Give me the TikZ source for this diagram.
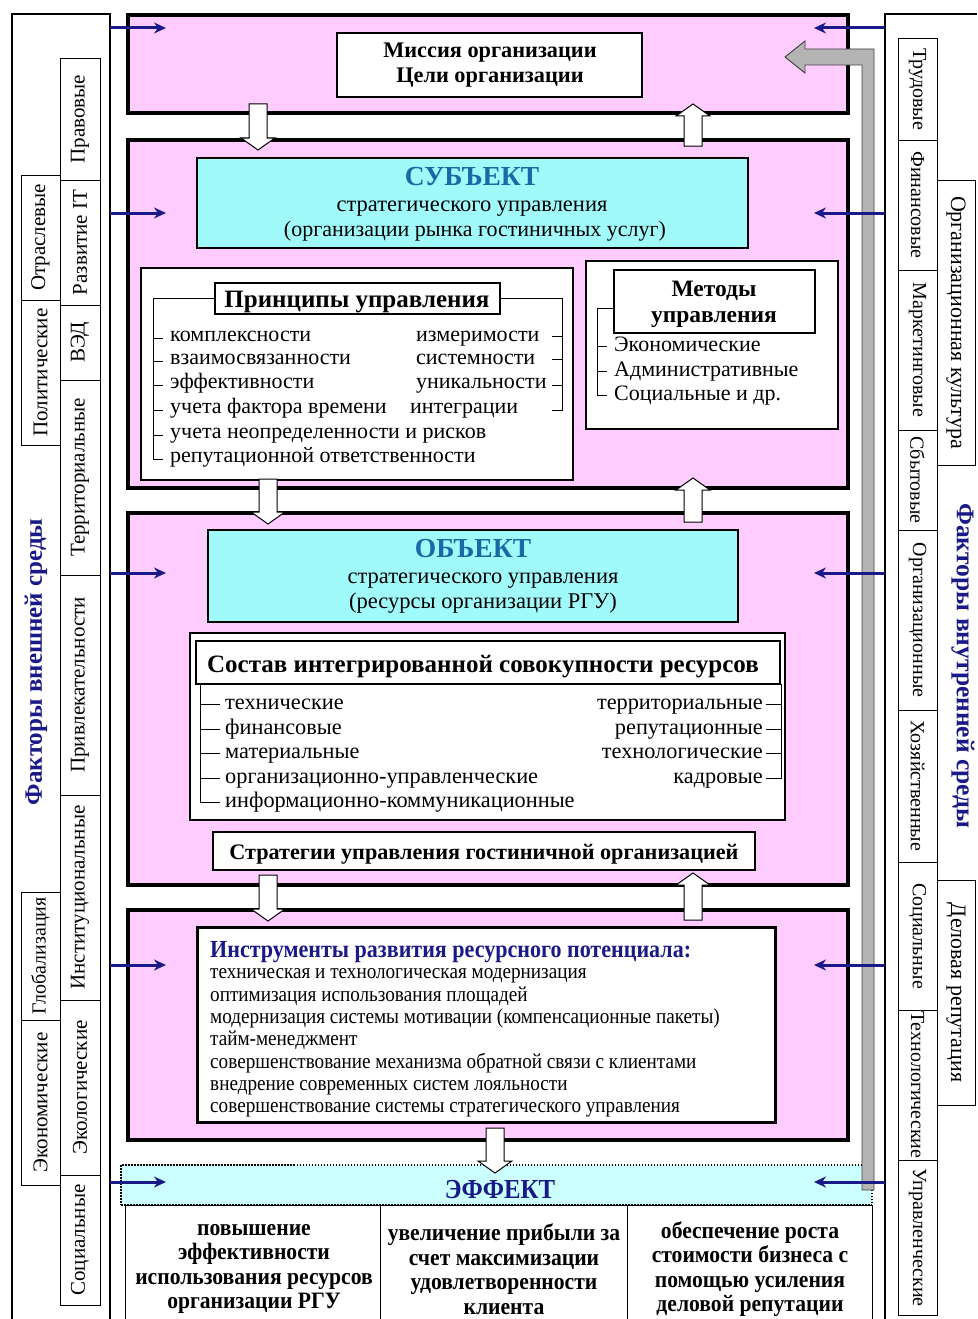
\documentclass[tikz,border=0pt]{standalone}
\usepackage{fontspec}
\setmainfont{Liberation Serif}
\newfontfamily\condfont[FakeStretch=0.9]{Liberation Serif}
\newfontfamily\narrowfont[FakeStretch=0.92]{Liberation Serif}
\usetikzlibrary{arrows.meta,calc}
\definecolor{pinkfill}{RGB}{255,204,255}
\definecolor{cyanfill}{RGB}{160,250,250}
\definecolor{effcyan}{RGB}{204,255,255}
\definecolor{navyc}{RGB}{25,25,135}
\definecolor{subjblue}{RGB}{25,105,165}
\definecolor{grayarr}{RGB}{180,180,180}
\newcommand{\fsz}[2]{\fontsize{#1}{#2}\selectfont}
\newcommand{\downarr}[3]{\draw[blockarr] (#1-9,#2) -- (#1+9,#2) -- (#1+9,#3-12) -- (#1+17,#3-12) -- (#1,#3) -- (#1-17,#3-12) -- (#1-9,#3-12) -- cycle;}
\newcommand{\uparr}[3]{\draw[blockarr] (#1-9,#3) -- (#1+9,#3) -- (#1+9,#2+12) -- (#1+17,#2+12) -- (#1,#2) -- (#1-17,#2+12) -- (#1-9,#2+12) -- cycle;}
\tikzset{
  pinkbox/.style={draw, line width=3.2pt, fill=pinkfill, inner sep=0pt, outer sep=0pt, anchor=north west},
  heavybox/.style={draw, line width=2.5pt, fill=white, inner sep=0pt, outer sep=0pt, anchor=north west},
  thinbox/.style={draw, line width=1.2pt, fill=white, inner sep=0pt, outer sep=0pt, anchor=north west},
  cyanbox/.style={draw, line width=2.5pt, fill=cyanfill, inner sep=0pt, outer sep=0pt, anchor=north west},
  cellbox/.style={draw, line width=1pt, fill=white, inner sep=0pt, outer sep=0pt, anchor=north west},
  sideL/.style={draw, line width=0.8pt, fill=white, rotate=90, inner sep=0pt, outer sep=0pt, font=\fsz{21}{23}},
  sideR/.style={draw, line width=0.8pt, fill=white, rotate=-90, inner sep=0pt, outer sep=0pt, font=\fsz{20}{23}},
  lbl/.style={inner sep=0pt, anchor=base},
  lblw/.style={inner sep=0pt, anchor=base west},
  lble/.style={inner sep=0pt, anchor=base east},
  navyarrow/.style={draw=navyc, line width=3pt, -{Stealth[length=12pt,width=11pt]}},
  blockarr/.style={draw, line width=1pt, fill=white},
  brk/.style={line width=1pt},
}
\begin{document}
\begin{tikzpicture}[x=1pt,y=-1pt]
\useasboundingbox (0,0) rectangle (977,1319);
\fill[white] (0,0) rectangle (977,1319);

% outer side frames
\draw[line width=1.5pt] (12,1319) -- (12,14) -- (110,14) -- (110,1319);
\draw[line width=1.5pt] (977,14) -- (885,14) -- (885,1319);

% left factors, inner column
\node[sideL, minimum width=122, minimum height=40] (lb1) at (80,119) {Правовые};
\node[sideL, minimum width=125, minimum height=40] (lb2) at (80,242.5) {Развитие IT};
\node[sideL, minimum width=75, minimum height=40] (lb3) at (80,342.5) {ВЭД};
\node[sideL, minimum width=195, minimum height=40] (lb4) at (80,477.5) {Территориальные};
\node[sideL, minimum width=220, minimum height=40] (lb5) at (80,685) {Привлекательности};
\node[sideL, minimum width=205, minimum height=40] (lb6) at (80,897.5) {Институциональные};
\node[sideL, minimum width=175, minimum height=40] (lb7) at (80,1087.5) {Экологические};
\node[sideL, minimum width=130, minimum height=40] (lb8) at (80,1240) {Социальные};
% left factors, outer column
\node[sideL, minimum width=125, minimum height=39] (la1) at (40.5,237.5) {Отраслевые};
\node[sideL, minimum width=145, minimum height=39] (la2) at (40.5,372.5) {Политические};
\node[sideL, font=\fsz{20}{22}, minimum width=128, minimum height=39] (la3) at (40.5,956) {Глобализация};
\node[sideL, minimum width=165, minimum height=39] (la4) at (40.5,1102.5) {Экономические};
\node[inner sep=0pt, rotate=90, text=navyc, font=\bfseries\fsz{25}{27}] (ltitle) at (36,662) {Факторы внешней среды};

% right factors
\node[sideR, minimum width=102, minimum height=39] (rc1) at (917.5,89) {Трудовые};
\node[sideR, minimum width=130, minimum height=39] (rc2) at (917.5,205) {Финансовые};
\node[sideR, minimum width=160, minimum height=39] (rc3) at (917.5,350) {Маркетинговые};
\node[sideR, minimum width=100, minimum height=39] (rc4) at (917.5,480) {Сбытовые};
\node[sideR, minimum width=180, minimum height=39] (rc5) at (917.5,620) {Организационные};
\node[sideR, minimum width=152, minimum height=39] (rc6) at (917.5,786) {Хозяйственные};
\node[sideR, minimum width=148, minimum height=39] (rc7) at (917.5,936) {Социальные};
\node[sideR, minimum width=150, minimum height=39] (rc8) at (917.5,1085) {Технологические};
\node[sideR, minimum width=155, minimum height=39] (rc9) at (917.5,1237.5) {Управленческие};
\node[sideR, font=\fsz{22}{24}, minimum width=285, minimum height=38] (rd1) at (956,322.5) {Организационная культура};
\node[sideR, font=\fsz{22}{24}, minimum width=225, minimum height=38] (rd2) at (956,992.5) {Деловая репутация};
\node[inner sep=0pt, rotate=-90, text=navyc, font=\bfseries\fsz{25.5}{27}] (rtitle) at (963,666) {Факторы внутренней среды};

% pink levels
\node[pinkbox, minimum width=720, minimum height=98] (p1) at (128,15) {};
\node[pinkbox, minimum width=720, minimum height=348] (p2) at (128,140) {};
\node[pinkbox, minimum width=720, minimum height=372] (p3) at (128,513) {};
\node[pinkbox, minimum width=720, minimum height=230] (p4) at (128,910) {};

% mission
\node[thinbox, line width=1.5pt, minimum width=305, minimum height=64] (mis) at (337,33) {};
\node[inner sep=0pt, align=center, font=\bfseries\fsz{22.3}{25}] (mist) at (490,65) {Миссия организации\\Цели организации};

% subject
\node[cyanbox, minimum width=551, minimum height=90] (subj) at (197,158) {};
\node[lbl, text=subjblue, font=\bfseries\fsz{27.5}{29}] (subjt) at (472,185) {СУБЪЕКТ};
\node[lbl, font=\fsz{22.5}{25}] (subj2) at (472,211) {стратегического управления};
\node[lbl, font=\fsz{22}{25}] (subj3) at (475,236) {(организации рынка гостиничных услуг)};

% principles
\node[heavybox, minimum width=432, minimum height=212] (prin) at (141,268) {};
\node[thinbox, minimum width=285, minimum height=31] (ph) at (215,283) {};
\node[lbl, font=\bfseries\fsz{25}{27}] (pht) at (357,307) {Принципы управления};
\begin{scope}[font=\fsz{22}{24}]
\node[lblw] (pl1) at (170,341) {комплексности};
\node[lblw] (pl2) at (170,364) {взаимосвязанности};
\node[lblw] (pl3) at (170,388) {эффективности};
\node[lblw] (pl4) at (170,413) {учета фактора времени};
\node[lblw] (pl5) at (170,438) {учета неопределенности и рисков};
\node[lblw] (pl6) at (170,462) {репутационной ответственности};
\node[lblw] (pr1) at (416,341) {измеримости};
\node[lblw] (pr2) at (416,364) {системности};
\node[lblw] (pr3) at (416,388) {уникальности};
\node[lblw] (pr4) at (410,413) {интеграции};
\end{scope}
\draw[brk] (ph.west) -- (153,298.5) -- (153,459) -- (163,459);
\foreach \yy in {338,361,385,410,435} \draw[brk] (153,\yy) -- (163,\yy);
\draw[brk] (ph.east) -- (562,298.5) -- (562,410) -- (552,410);
\foreach \yy in {336,359,385} \draw[brk] (562,\yy) -- (552,\yy);

% methods
\node[heavybox, minimum width=252, minimum height=168] (meth) at (586,261) {};
\node[thinbox, minimum width=201, minimum height=63] (mh) at (614,270) {};
\node[inner sep=0pt, align=center, font=\bfseries\fsz{23.5}{26}] (mht) at (714,304) {Методы\\управления};
\begin{scope}[font=\fsz{22}{24}]
\node[lblw] (ml1) at (614,351) {Экономические};
\node[lblw] (ml2) at (614,376) {Административные};
\node[lblw] (ml3) at (614,400) {Социальные и др.};
\end{scope}
\draw[brk] (mh.west |- 0,308) -- (597,308) -- (597,395) -- (607,395);
\foreach \yy in {346,371} \draw[brk] (597,\yy) -- (607,\yy);

% object
\node[cyanbox, minimum width=530, minimum height=92] (obj) at (208,530) {};
\node[lbl, text=subjblue, font=\bfseries\fsz{27.5}{29}] (objt) at (473,557) {ОБЪЕКТ};
\node[lbl, font=\fsz{22.5}{25}] (obj2) at (483,583) {стратегического управления};
\node[lbl, font=\fsz{22.5}{25}] (obj3) at (483,608) {(ресурсы организации РГУ)};

% resources composition
\node[heavybox, line width=2pt, minimum width=595, minimum height=187] (sost) at (190,633) {};
\node[thinbox, minimum width=584, minimum height=43] (sh) at (196,641) {};
\node[lbl, font=\bfseries\fsz{25}{27}] (sht) at (483,672) {Состав интегрированной совокупности ресурсов};
\begin{scope}[font=\fsz{22.3}{24}]
\node[lblw] (sl1) at (225,709) {технические};
\node[lblw] (sl2) at (225,734) {финансовые};
\node[lblw] (sl3) at (225,758) {материальные};
\node[lblw] (sl4) at (225,783) {организационно-управленческие};
\node[lblw] (sl5) at (225,807) {информационно-коммуникационные};
\node[lble] (sr1) at (763,709) {территориальные};
\node[lble] (sr2) at (763,734) {репутационные};
\node[lble] (sr3) at (763,758) {технологические};
\node[lble] (sr4) at (763,783) {кадровые};
\end{scope}
\draw[brk] (200,684) -- (200,802) -- (220,802);
\foreach \yy in {704,729,753,778} \draw[brk] (200,\yy) -- (220,\yy);
\draw[brk] (781,684) -- (781,778) -- (766,778);
\foreach \yy in {704,729,753} \draw[brk] (781,\yy) -- (766,\yy);

% strategies
\node[heavybox, line width=2pt, minimum width=542, minimum height=38] (strat) at (213,832) {};
\node[lbl, font=\bfseries\fsz{22.2}{24}] (stratt) at (484,859) {Стратегии управления гостиничной организацией};

% instruments
\node[heavybox, line width=3pt, minimum width=578, minimum height=195] (instr) at (197,927) {};
\node[lblw, text=navyc, font=\condfont\bfseries\fsz{24.5}{26}] (it0) at (210,957) {Инструменты развития ресурсного потенциала:};
\begin{scope}[font=\condfont\fsz{21.3}{22}]
\node[lblw] (it1) at (210,978) {техническая и технологическая модернизация};
\node[lblw] (it2) at (210,1001) {оптимизация использования площадей};
\node[lblw] (it3) at (210,1023) {модернизация системы мотивации (компенсационные пакеты)};
\node[lblw] (it4) at (210,1045) {тайм-менеджмент};
\node[lblw] (it5) at (210,1068) {совершенствование механизма обратной связи с клиентами};
\node[lblw] (it6) at (210,1090) {внедрение современных систем лояльности};
\node[lblw] (it7) at (210,1112) {совершенствование системы стратегического управления};
\end{scope}

% effect
\node[draw, dash pattern=on 1.5pt off 1.5pt, line width=1.3pt, fill=effcyan, inner sep=0pt, outer sep=0pt, anchor=north west, minimum width=751, minimum height=40] (eff) at (121,1165) {};
\node[lbl, text=navyc, font=\condfont\bfseries\fsz{27.5}{29}] (efft) at (500,1198) {ЭФФЕКТ};
\node[cellbox, minimum width=255, minimum height=118] (c1) at (125,1205) {};
\node[cellbox, minimum width=247, minimum height=118] (c2) at (380,1205) {};
\node[cellbox, minimum width=245, minimum height=118] (c3) at (627,1205) {};
\begin{scope}[font=\narrowfont\bfseries\fsz{23.5}{24.5}]
\node[inner sep=0pt, align=center] (c1t) at (254,1269) {повышение\\эффективности\\использования ресурсов\\организации РГУ};
\node[inner sep=0pt, align=center] (c2t) at (504,1269) {увеличение прибыли за\\счет максимизации\\удовлетворенности\\клиента};
\node[inner sep=0pt, align=center] (c3t) at (750,1269) {обеспечение роста\\стоимости бизнеса с\\помощью усиления\\деловой репутации};
\end{scope}

% white block arrows between levels
\downarr{258}{104}{150}
\uparr{693}{104}{146}
\downarr{268}{479}{524}
\uparr{693}{478}{522}
\downarr{268}{875}{921}
\uparr{693}{873}{920}
\downarr{495}{1128}{1173}

% grey feedback arrow
\draw[fill=grayarr, draw=black!75, line width=0.9pt] (862,1190) -- (874,1190) -- (874,49) -- (805,49) -- (805,41) -- (785,57) -- (805,73) -- (805,65) -- (862,65) -- cycle;

% navy influence arrows
\foreach \yy/\nm in {28/a,213/b,573/c,965/d,1182/e} {
  \coordinate (ls\nm) at (110,\yy);
  \coordinate (le\nm) at (166,\yy);
  \coordinate (rs\nm) at (885,\yy);
  \coordinate (re\nm) at (814,\yy);
  \draw[navyarrow] (ls\nm) -- (le\nm);
  \draw[navyarrow] (rs\nm) -- (re\nm);
}
\end{tikzpicture}
\end{document}
